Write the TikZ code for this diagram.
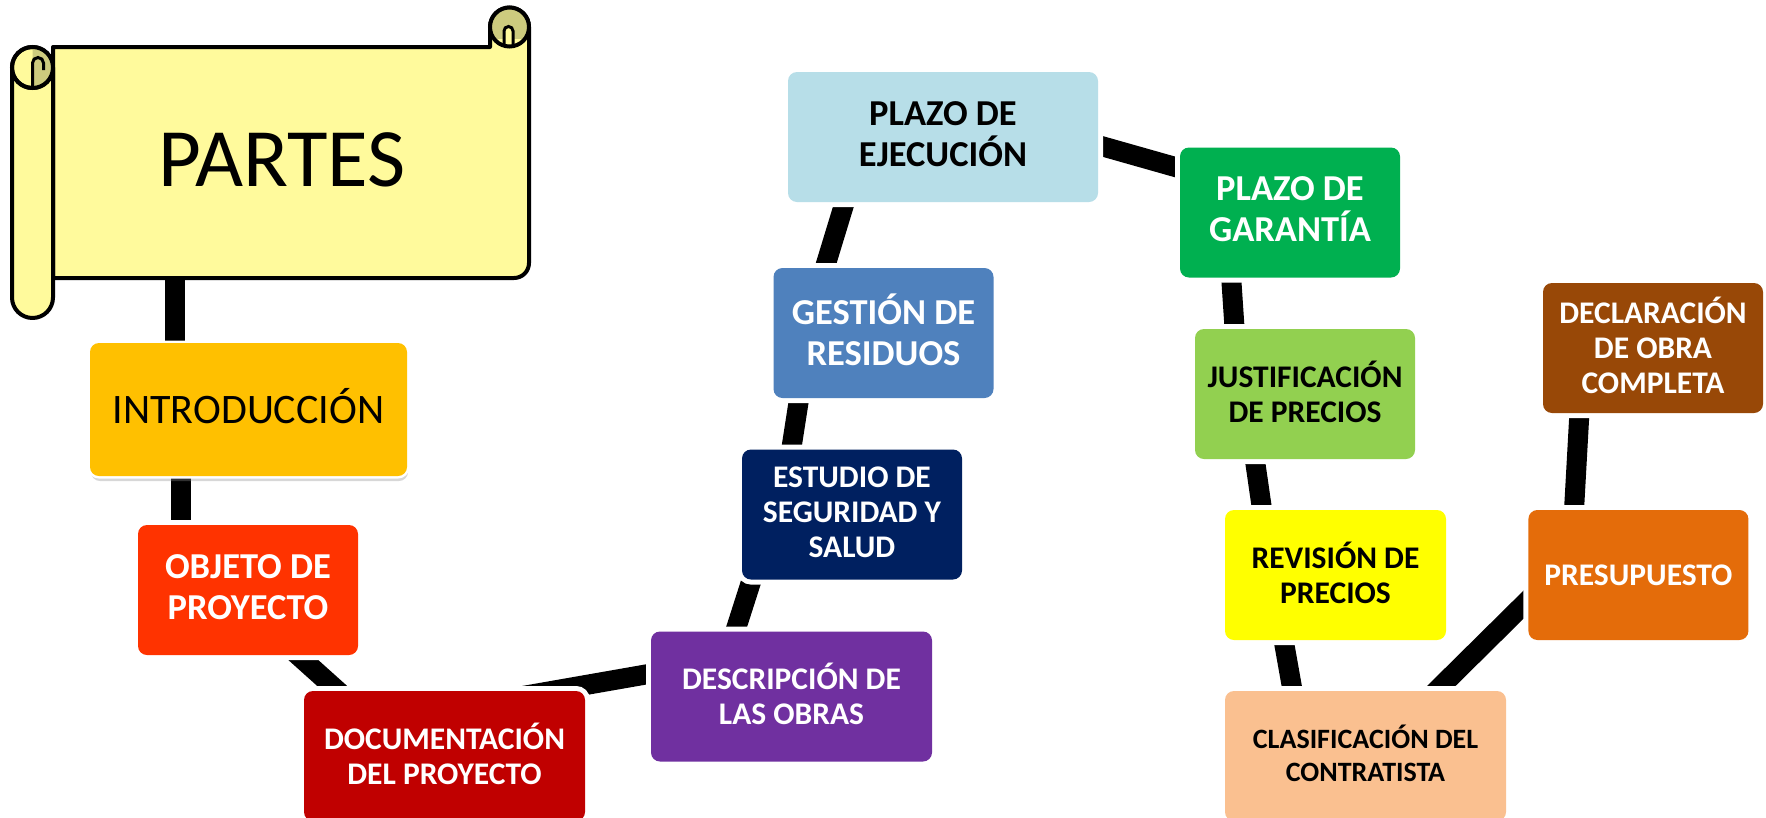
\documentclass[tikz,border=0pt]{standalone}
\usepackage{fontspec}
\setmainfont{Carlito}
\usetikzlibrary{positioning}
\usetikzlibrary{calc}
\usetikzlibrary{backgrounds}
\usetikzlibrary{shadows}

\definecolor{papel}{HTML}{FFFA9C}
\definecolor{rollo}{HTML}{CDCB7E}
\definecolor{cintro}{HTML}{FFC000}
\definecolor{cobjeto}{HTML}{FF3300}
\definecolor{cdocu}{HTML}{C00000}
\definecolor{cdescr}{HTML}{7030A0}
\definecolor{cestudio}{HTML}{002060}
\definecolor{cgestion}{HTML}{4F81BD}
\definecolor{cplazoej}{HTML}{B7DEE8}
\definecolor{cgarantia}{HTML}{00B050}
\definecolor{cjustif}{HTML}{92D050}
\definecolor{crevision}{HTML}{FFFF00}
\definecolor{cclasif}{HTML}{FAC090}
\definecolor{cpresup}{HTML}{E46C0A}
\definecolor{cdeclar}{HTML}{984807}

\tikzset{
  parte/.style={rounded corners=9pt, minimum width=220pt, minimum height=130pt,
    inner sep=0pt, align=center, preaction={draw=white, line width=#1},
    execute at begin node={\vphantom{Ó}},
    execute at end node={\rule[-0.17em]{0pt}{0.17em}}},
  parte/.default=10pt,
  grande/.style={font=\fontsize{36.5}{41}\selectfont\bfseries},
  media/.style={font=\fontsize{31.5}{35}\selectfont\bfseries},
  chica/.style={font=\fontsize{28}{33}\selectfont\bfseries},
  blanca/.style={text=white},
  enlace/.style={line width=20pt},
  hoja/.style={fill=papel, draw=black, line width=4pt, line join=round},
}

\begin{document}
\begin{tikzpicture}[x=1pt, y=-1pt]
    \useasboundingbox (0,0) rectangle (1766,817);

    % pergamino
    \path[hoja] (53,47) -- (490,47) -- (490,27) arc[start angle=180, end angle=360, radius=19.5]
      -- (529,263) arc[start angle=0, end angle=90, radius=15] -- (53,278) -- cycle;
    \path[hoja] (12,67.5) -- (12,297.5) arc[start angle=180, end angle=0, radius=20.5] -- (53,67.5);
    \path[hoja] (32.5,67.5) circle[radius=20.5];
    \begin{scope}
      \clip (32.5,47) rectangle (53,88);
      \fill[rollo] (32.5,67.5) circle[radius=20.5];
    \end{scope}
    \draw[line width=3pt] (32.5,88) -- (32.5,63) arc[start angle=180, end angle=360, radius=5.5] -- (43.5,70);
    \draw[line width=4pt] (32.5,67.5) circle[radius=20.5];
    \begin{scope}
      \clip (490,7) rectangle (529,38);
      \fill[rollo] (509.5,27) circle[radius=19.5];
    \end{scope}
    \draw[line width=3pt, fill=papel] (504,46) -- (504,31) arc[start angle=180, end angle=360, radius=4.5] -- (513,46);
    \draw[line width=4pt] (509.5,27) circle[radius=19.5];
    \node[font=\fontsize{83}{83}\selectfont, inner sep=0pt] (titulo) at (282,160) {PARTES};
    \coordinate (pie) at (174.5,262);

    % partes
    \node[drop shadow={shadow xshift=1pt, shadow yshift=-5pt, opacity=0.35, fill=black!45},
      parte=5pt, fill=cintro, minimum width=317pt, minimum height=133pt,
      font=\fontsize{42}{50}\selectfont] (intro) at (248.5,409.5) {INTRODUCCIÓN};
    \node[parte, fill=cobjeto, grande, blanca] (objeto) at (248,590) {OBJETO DE\\PROYECTO};
    \node[parte, fill=cdocu, media, blanca, minimum width=281pt] (docu) at (444.5,756) {DOCUMENTACIÓN\\DEL PROYECTO};
    \node[parte, fill=cdescr, media, blanca, minimum width=281pt] (descr) at (791.5,696.5) {DESCRIPCIÓN DE\\LAS OBRAS};
    \node[parte, fill=cestudio, media, blanca] (estudio) at (852,514.5) {ESTUDIO DE\\SEGURIDAD Y\\SALUD};
    \node[parte, fill=cgestion, grande, blanca] (gestion) at (883.5,333) {GESTIÓN DE\\RESIDUOS};
    \node[parte, fill=cplazoej, grande, minimum width=310pt] (plazoej) at (943,137) {PLAZO DE\\EJECUCIÓN};
    \node[parte, fill=cgarantia, grande, blanca] (garantia) at (1290,212.5) {PLAZO DE\\GARANTÍA};
    \node[parte, fill=cjustif, media] (justif) at (1305,394) {JUSTIFICACIÓN\\DE PRECIOS};
    \node[parte, fill=crevision, media, minimum width=221pt] (revision) at (1335.5,575) {REVISIÓN DE\\PRECIOS};
    \node[parte, fill=cclasif, chica, minimum width=281pt] (clasif) at (1365.5,756) {CLASIFICACIÓN DEL\\CONTRATISTA};
    \node[parte, fill=cpresup, media, blanca, right=82pt of revision] (presup) {PRESUPUESTO};
    \node[parte, fill=cdeclar, media, blanca] (declar) at (1653,348) {DECLARACIÓN\\DE OBRA\\COMPLETA};

    % enlaces
    \begin{scope}[on background layer]
      \draw[enlace] (pie) -- ($(intro.center)+(-74,-9.5)$);
      \draw[enlace] ($(intro.center)+(-67.5,10.5)$) -- ($(objeto.center)+(-67,-30)$);
      \draw[enlace] ($(objeto.center)+(33,50)$) -- ($(docu.center)+(-85.5,-46)$);
      \draw[enlace] ($(descr.center)+(-91.5,-31.5)$) -- ($(docu.center)+(55.5,-56)$);
      \draw[enlace] ($(descr.center)+(-65.5,-36.5)$) -- ($(estudio.center)+(-94,45.5)$);
      \draw[enlace] ($(estudio.center)+(-64,-44.5)$) -- ($(gestion.center)+(-81.5,47)$);
      \draw[enlace] ($(gestion.center)+(-65.5,-43)$) -- ($(plazoej.center)+(-93,48)$);
      \draw[enlace] ($(plazoej.center)+(137,3)$) -- ($(garantia.center)+(-90,-38.5)$);
      \draw[enlace] ($(garantia.center)+(-60,47.5)$) -- ($(justif.center)+(-69,-44)$);
      \draw[enlace] ($(justif.center)+(-53,46)$) -- ($(revision.center)+(-70.5,-45)$);
      \draw[enlace] ($(revision.center)+(-55.5,45)$) -- ($(clasif.center)+(-69.5,-46)$);
      \draw[enlace] ($(clasif.center)+(54.5,-49)$) -- ($(presup.center)+(-93,8)$);
      \draw[enlace] ($(presup.center)+(-65.5,-45)$) -- ($(declar.center)+(-72.6,47)$);
    \end{scope}
\end{tikzpicture}
\end{document}
